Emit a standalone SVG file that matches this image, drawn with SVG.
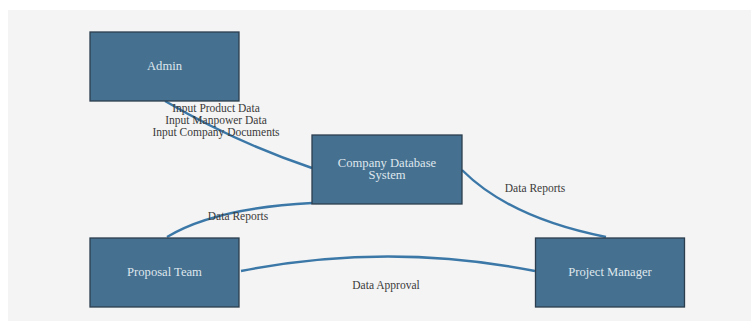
<svg xmlns="http://www.w3.org/2000/svg" width="751" height="321" viewBox="0 0 751 321">
<style>
.node rect{fill:#46708f;stroke:#2c3e4e;stroke-width:1.3}
.node text{font-family:"Liberation Serif","Times New Roman",serif;font-size:12.6px;fill:#dfe7ee;text-anchor:middle}
.edge{fill:none;stroke:#3b78a8;stroke-width:2.4}
.lbl{font-family:"Liberation Serif","Times New Roman",serif;font-size:11.5px;fill:#3a3a3a;text-anchor:middle}
</style>
<rect x="0" y="0" width="751" height="321" fill="#ffffff"/>
<rect x="8" y="10" width="743" height="311" fill="#f4f4f4"/>
<g id="connectors">
<path class="edge" d="M165,101 Q235,142 312,168"/>
<path class="edge" d="M312,203 Q215,208 167,237"/>
<path class="edge" d="M462,170 Q510,218 606,237"/>
<path class="edge" d="M241,271 Q388,242 535,271"/>
<text class="lbl" x="216" y="112">Input Product Data</text>
<text class="lbl" x="216" y="124">Input Manpower Data</text>
<text class="lbl" x="216" y="136">Input Company Documents</text>
<text class="lbl" x="238" y="220">Data Reports</text>
<text class="lbl" x="535" y="192">Data Reports</text>
<text class="lbl" x="386" y="289">Data Approval</text>
</g>
<g id="admin" class="node"><rect x="90" y="32" width="149" height="69"/><text x="164.5" y="70">Admin</text></g>
<g id="company-db" class="node"><rect x="312" y="135" width="150" height="69"/><text x="387" y="166.5">Company Database</text><text x="387" y="179">System</text></g>
<g id="proposal-team" class="node"><rect x="90" y="238" width="149" height="69"/><text x="164.5" y="276">Proposal Team</text></g>
<g id="project-manager" class="node"><rect x="535.5" y="238" width="149" height="69"/><text x="610" y="276">Project Manager</text></g>
</svg>
